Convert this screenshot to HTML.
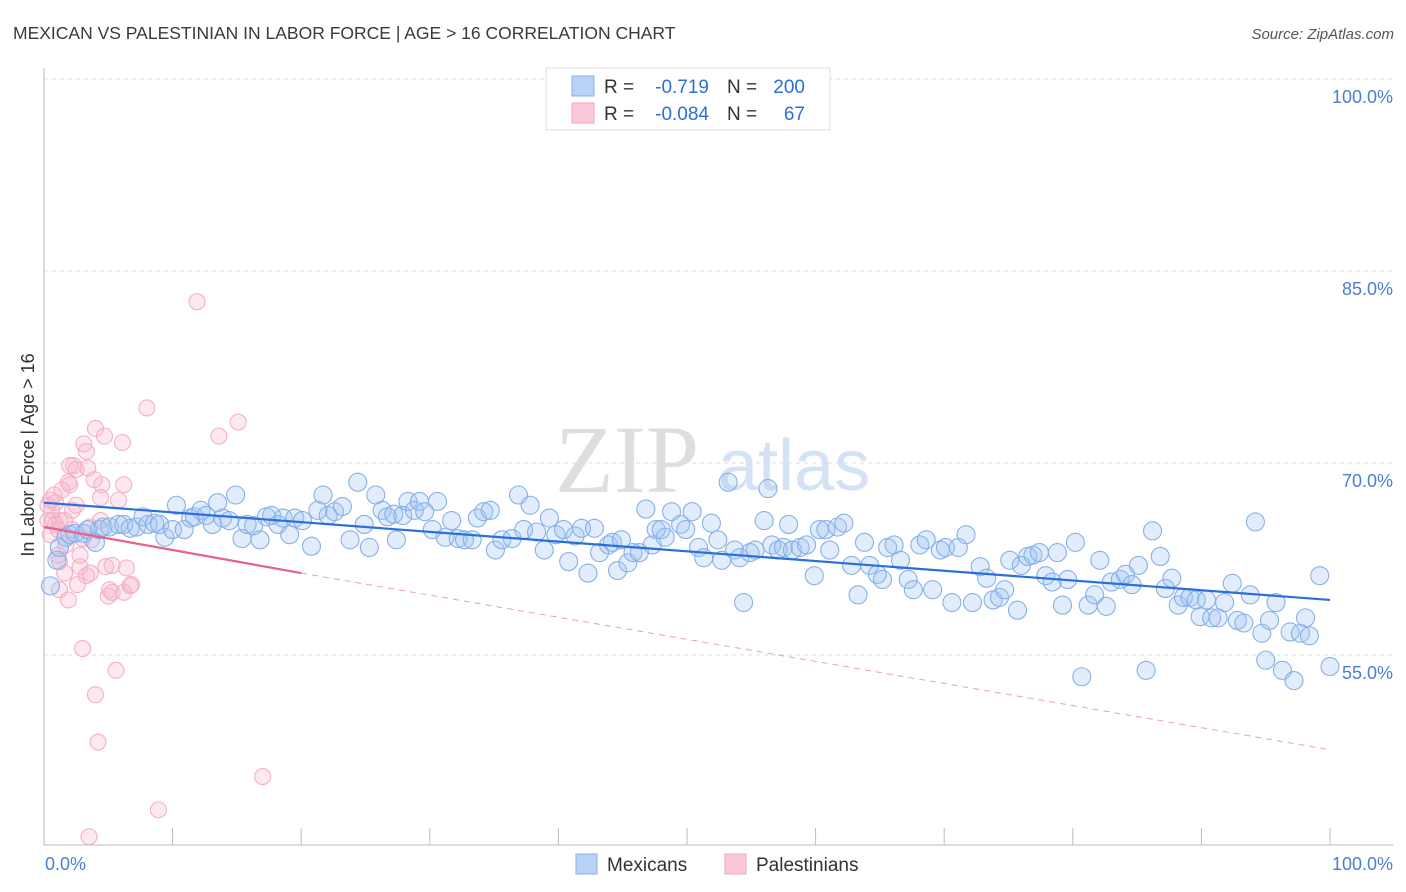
<!DOCTYPE html>
<html><head><meta charset="utf-8"><style>
body{margin:0;background:#fff;font-family:"Liberation Sans",sans-serif;}
#wrap{position:relative;width:1406px;height:892px;overflow:hidden;}
</style></head><body>
<div id="wrap">
<svg id="svg" width="1406" height="892" xmlns="http://www.w3.org/2000/svg"></svg>
</div>
<script>
const blueX=[0.5,1.0,1.2,1.7,2.0,2.4,3.1,3.4,4.0,4.3,4.6,5.1,5.8,6.2,6.7,7.2,7.7,8.1,8.6,9.0,9.4,10.0,10.3,10.9,11.4,11.7,12.2,12.6,13.1,13.5,13.9,14.4,14.9,15.4,15.8,16.3,16.8,17.3,17.7,18.2,18.6,19.1,19.5,20.1,20.8,21.3,21.7,22.1,22.6,23.2,23.8,24.4,24.9,25.3,25.8,26.3,26.7,27.2,27.4,27.9,28.3,28.8,29.2,29.6,30.2,30.6,31.2,31.7,32.2,32.7,33.3,33.7,34.2,34.7,35.1,35.6,36.4,36.9,37.3,37.8,38.3,38.9,39.3,39.8,40.4,40.8,41.3,41.8,42.3,42.8,43.2,43.9,44.2,44.6,44.9,45.4,45.8,46.3,46.8,47.3,47.6,48.0,48.3,48.8,49.5,49.9,50.4,50.9,51.3,51.9,52.4,52.7,53.2,53.7,54.1,54.4,54.9,55.3,56.0,56.3,56.6,57.1,57.5,57.9,58.2,58.8,59.3,59.9,60.3,60.8,61.1,61.7,62.2,62.8,63.3,63.8,64.2,64.8,65.2,65.6,66.1,66.6,67.2,67.6,68.1,68.6,69.1,69.7,70.1,70.6,71.1,71.7,72.2,72.8,73.3,73.8,74.3,74.7,75.1,75.7,76.0,76.5,76.9,77.4,77.9,78.4,78.8,79.2,79.6,80.2,80.7,81.2,81.7,82.1,82.6,83.0,83.7,84.1,84.6,85.1,85.7,86.2,86.8,87.2,87.7,88.2,88.6,89.1,89.6,89.9,90.4,90.8,91.3,91.8,92.4,92.8,93.3,93.8,94.2,94.7,95.0,95.3,95.8,96.3,96.9,97.2,97.7,98.1,98.4,99.2,100];
const blueY=[60.4,62.4,63.4,64.2,64.4,64.5,64.5,64.8,63.8,64.8,65.0,65.0,65.2,65.2,64.9,65.0,65.8,65.2,65.3,65.2,64.2,64.8,66.7,64.8,65.7,65.8,66.3,65.9,65.2,66.9,65.7,65.5,67.5,64.1,65.2,65.1,64.0,65.8,65.9,65.2,65.7,64.4,65.7,65.5,63.5,66.3,67.5,65.9,66.2,66.6,64.0,68.5,65.2,63.4,67.5,66.3,65.8,66.0,64.0,65.9,67.0,66.3,67.0,66.2,64.8,67.0,64.2,65.5,64.1,64.0,64.0,65.7,66.2,66.3,63.2,64.0,64.1,67.5,64.8,66.7,64.6,63.2,65.7,64.4,64.8,62.3,64.3,64.9,61.4,64.9,63.0,63.6,63.8,61.6,64.0,62.2,63.0,63.0,66.4,63.6,64.8,64.8,64.2,66.2,65.2,64.8,66.2,63.4,62.6,65.3,64.0,62.4,68.5,63.2,62.6,59.1,63.0,63.2,65.5,68.0,63.6,63.2,63.4,65.2,63.2,63.4,63.6,61.2,64.8,64.8,63.2,65.0,65.3,62.0,59.7,63.8,62.0,61.3,60.9,63.4,63.6,62.4,60.9,60.1,63.6,64.0,60.1,63.2,63.4,59.1,63.4,64.4,59.1,61.9,61.0,59.3,59.5,60.1,62.4,58.5,62.0,62.7,62.8,63.0,61.2,60.7,63.0,58.9,60.9,63.8,53.3,58.9,59.7,62.4,58.8,60.7,60.9,61.3,60.5,62.0,53.8,64.7,62.7,60.2,61.0,58.9,59.5,59.5,59.3,58.0,59.3,57.9,57.9,59.1,60.6,57.7,57.5,59.7,65.4,56.7,54.6,57.7,59.1,53.8,56.8,53.0,56.7,57.9,56.5,61.2,54.1];
const pinkX=[0.5,0.6,0.7,0.9,0.5,0.9,1.1,1.2,1.4,1.6,1.7,1.9,2.0,2.2,2.3,2.5,2.6,2.8,3.0,3.1,3.3,3.4,3.6,3.7,3.9,4.0,4.0,4.2,4.4,4.5,4.7,4.8,5.0,5.1,5.3,5.6,5.8,6.1,6.2,6.2,6.4,6.7,6.8,8.0,8.9,11.9,13.6,15.1,17.0,3.5,3.0,1.2,2.5,3.3,2.0,1.1,0.3,0.8,1.6,3.6,4.4,5.3,2.8,1.2,1.9,2.2,0.3];
const pinkY=[67.1,66.3,65.5,65.2,64.4,66.9,64.8,65.5,67.9,61.4,63.6,68.5,68.3,64.8,69.8,66.7,60.5,62.8,64.1,71.5,61.2,69.6,61.4,64.0,68.7,51.9,72.7,48.2,67.3,68.3,72.1,61.9,59.6,60.1,59.9,53.8,67.1,71.6,68.3,59.9,61.8,60.4,60.5,74.3,42.9,82.6,72.1,73.2,45.5,40.8,55.5,62.3,69.5,70.9,69.8,62.8,66.7,67.5,65.5,65.0,65.5,62.0,61.9,60.1,59.3,66.3,65.5];
const blueTrendX=[0,100], blueTrendY=[66.9,59.3];
const pinkTrendX=[0,20,100], pinkTrendY=[65.0,61.4,47.6];
const yTicks=[100,85,70,55];
const yTickLabels=["100.0%","85.0%","70.0%","55.0%"];
const xTicks=[0,10,20,30,40,50,60,70,80,90,100];

const NS="http://www.w3.org/2000/svg";
const svg=document.getElementById('svg');
const X0=44,X1=1330,YTOP=79,PXPER=12.8;
function sx(v){return X0+(X1-X0)*v/100;}
function sy(v){return YTOP+(100-v)*PXPER;}
function mk(tag,attrs,parent){const e=document.createElementNS(NS,tag);for(const k in attrs)e.setAttribute(k,attrs[k]);(parent||svg).appendChild(e);return e;}
function txt(s,attrs){const t=mk('text',attrs);t.textContent=s;return t;}

let t=txt("MEXICAN VS PALESTINIAN IN LABOR FORCE | AGE > 16 CORRELATION CHART",{x:13,y:39,'font-size':17.5,fill:'#3a3a3a'});

t=txt("Source: ZipAtlas.com",{x:1394,y:39,'font-size':15,fill:'#555','font-style':'italic','text-anchor':'end'});


t=txt("ZIP",{x:555,y:492,'font-size':96,fill:'#dedede','font-family':'Liberation Serif,serif'});

t=txt("atlas",{x:718,y:490,'font-size':72,fill:'#d3e3f5'});


yTicks.forEach((v,i)=>{
  const g=mk('line',{x1:X0,x2:1393,y1:sy(v),y2:sy(v),stroke:'#dddddd','stroke-dasharray':'4,4','stroke-width':1});
  
  const l=txt(yTickLabels[i],{x:1393,y:sy(v)+24,'font-size':18,fill:'#4a7fd6','text-anchor':'end'});
  
});
let a=mk('line',{x1:X0,x2:X0,y1:68,y2:845,stroke:'#bbb','stroke-width':1});

a=mk('line',{x1:X0,x2:1393,y1:845,y2:845,stroke:'#bbb','stroke-width':1});

xTicks.forEach(v=>{const k=mk('line',{x1:sx(v),x2:sx(v),y1:828,y2:845,stroke:'#bbb'});
  });
t=txt("0.0%",{x:45,y:870,'font-size':18,fill:'#4a7fd6'});

t=txt("100.0%",{x:1393,y:870,'font-size':18,fill:'#4a7fd6','text-anchor':'end'});

t=txt("In Labor Force | Age > 16",{x:0,y:0,'font-size':18,fill:'#333','text-anchor':'middle',transform:'translate(34,455) rotate(-90)'});


const gp=mk('g',{});
pinkX.forEach((v,i)=>{const c=mk('circle',{cx:sx(v),cy:sy(pinkY[i]),r:8,fill:'rgba(248,180,202,0.3)',stroke:'#f4b0c6','stroke-width':1.1},gp);
  });
const gb=mk('g',{});
blueX.forEach((v,i)=>{const c=mk('circle',{cx:sx(v),cy:sy(blueY[i]),r:9,fill:'rgba(160,196,242,0.3)',stroke:'#86b0ea','stroke-width':1.1},gb);
  });

let l=mk('line',{x1:sx(blueTrendX[0]),y1:sy(blueTrendY[0]),x2:sx(blueTrendX[1]),y2:sy(blueTrendY[1]),stroke:'#2a6fd8','stroke-width':2.2});

l=mk('line',{x1:sx(pinkTrendX[0]),y1:sy(pinkTrendY[0]),x2:sx(pinkTrendX[1]),y2:sy(pinkTrendY[1]),stroke:'#e8608e','stroke-width':2.2});

l=mk('line',{x1:sx(pinkTrendX[1]),y1:sy(pinkTrendY[1]),x2:sx(pinkTrendX[2]),y2:sy(pinkTrendY[2]),stroke:'#eaa0b8','stroke-width':1,'stroke-dasharray':'6,5'});


const lg=mk('g',{});
mk('rect',{x:546,y:68,width:284,height:62,fill:'#fff',stroke:'#ddd'},lg);
let r=mk('rect',{x:572,y:76,width:22,height:20,fill:'#b8d3f5',stroke:'#8ab2e8'},lg);

r=mk('rect',{x:572,y:103,width:22,height:20,fill:'#fac8d8',stroke:'#f0a6be'},lg);

function lt(s,x,y,c,anchor){const e=mk('text',{x:x,y:y,'font-size':19,fill:c,'text-anchor':anchor||'start'},lg);e.textContent=s;}
lt("R =",604,93,'#333');lt("-0.719",709,93,'#2a6fd8','end');lt("N =",727,93,'#333');lt("200",805,93,'#2a6fd8','end');
lt("R =",604,120,'#333');lt("-0.084",709,120,'#2a6fd8','end');lt("N =",727,120,'#333');lt("67",805,120,'#2a6fd8','end');

r=mk('rect',{x:576,y:854,width:21,height:20,fill:'#b8d3f5',stroke:'#8ab2e8'});

t=txt("Mexicans",{x:607,y:871,'font-size':19,fill:'#333'});

r=mk('rect',{x:725,y:854,width:21,height:20,fill:'#fac8d8',stroke:'#f0a6be'});

t=txt("Palestinians",{x:756,y:871,'font-size':19,fill:'#333'});

</script>
</body></html>
